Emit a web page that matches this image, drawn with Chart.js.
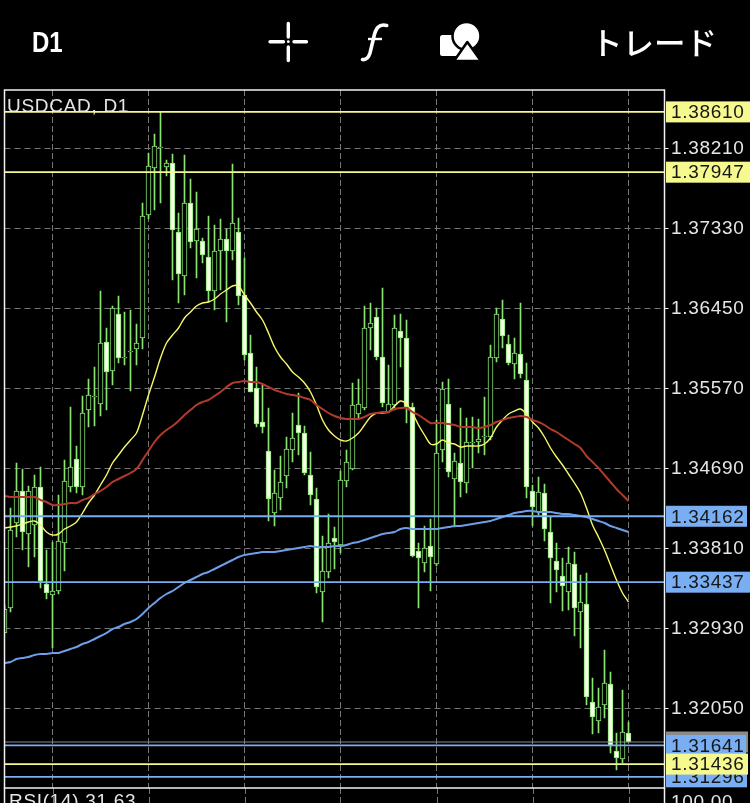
<!DOCTYPE html>
<html lang="ja">
<head>
<meta charset="utf-8">
<title>USDCAD D1</title>
<script src="https://cdn.jsdelivr.net/npm/chart.js@4"></script>
<style>
  html, body { margin: 0; padding: 0; background: #000; }
  #tela { position: relative; width: 750px; height: 803px; overflow: hidden; }
  #grafico { position: absolute; left: 0; top: 0; }
  .topo { position: absolute; color: #fff; white-space: nowrap; }
  #periodo { left: 32px; top: 25px; font: bold 30px "Liberation Sans"; transform: scaleX(0.8); transform-origin: left top; }
  #trade { left: 591px; top: 18px; font: 500 31.5px "Noto Sans CJK JP"; }
  #icones { position: absolute; left: 0; top: 0; }
</style>
</head>
<body>
<div id="tela">
  <canvas id="grafico" width="750" height="803"></canvas>
  <div class="topo" id="periodo">D1</div>
  <div class="topo" id="trade">トレード</div>
  <svg id="icones" width="750" height="80" fill="#fff" stroke="none">
    <!-- cruz -->
    <g stroke="#fff" stroke-width="3.4" stroke-linecap="round">
      <path d="M270 41.7H283.5M294 41.7H306.5M288.3 23.5V37M288.3 47V60.5"/>
    </g>
    <circle cx="288.3" cy="41.7" r="1.4"/>
    <!-- f -->
    <path d="M386.7 25.5C379 23.5 375.5 28 373.5 38.5L370 53C368.5 58 366 60 362.5 59.5" fill="none" stroke="#fff" stroke-width="3.6" stroke-linecap="round"/>
    <path d="M368 39H382" stroke="#fff" stroke-width="2.4"/>
    <!-- formas -->
    <rect x="440" y="35" width="22" height="21" rx="2.5"/>
    <circle cx="466.5" cy="36" r="14" stroke="#000" stroke-width="2.5"/>
    <path d="M467.3 42L481 61H454Z" stroke="#000" stroke-width="2.5" stroke-linejoin="round"/>
  </svg>
</div>
<script>
// USDCAD diário
const opens = [
  1.32878,1.33153,1.34088,1.34440,1.33967,1.34066,1.34484,1.33417,1.33296,1.33340,
  1.33868,1.34484,1.34792,1.34484,1.35331,1.35474,1.35397,1.36079,1.35760,1.36387,
  1.35903,1.35969,1.36002,1.36123,1.37476,1.37993,1.38213,1.38004,1.38048,1.37289,
  1.36805,1.37608,1.37190,1.37190,1.37014,1.36640,1.37080,1.37212,1.37080,1.37289,
  1.36596,1.35958,1.35573,1.35199,1.34880,1.34198,1.34363,1.34605,1.34891,1.35166,
  1.35078,1.34616,1.34352,1.33329,1.33549,1.33923,1.33846,1.34550,1.34682,1.35287,
  1.35353,1.36233,1.36354,1.35914,1.35309,1.35386,1.36200,1.36123,1.35364,1.33780,
  1.33648,1.33835,1.33637,1.34891,1.35397,1.34572,1.34748,1.34528,1.34968,1.34979,
  1.35034,1.35034,1.35903,1.36332,1.36057,1.35837,1.35947,1.35661,1.34440,1.34209,
  1.34418,1.33989,1.33670,1.33505,1.33329,1.33637,1.33109,1.33197,1.32119,1.31910,
  1.32086,1.32317,1.31580,1.31492,1.31778
];
const highs = [
  1.33186,1.34253,1.34748,1.34682,1.34495,1.34616,1.34704,1.33791,1.33879,1.34396,
  1.34781,1.35364,1.34935,1.35485,1.35672,1.35804,1.36640,1.36233,1.36475,1.36585,
  1.36409,1.36431,1.36277,1.37608,1.38158,1.38367,1.38609,1.38081,1.38147,1.37498,
  1.38136,1.37872,1.37729,1.37223,1.37465,1.37366,1.37432,1.37322,1.38037,1.37443,
  1.37003,1.36156,1.35804,1.35606,1.35353,1.34671,1.34825,1.35034,1.35298,1.35518,
  1.35155,1.34869,1.34473,1.33945,1.34187,1.34044,1.34660,1.34891,1.35628,1.35672,
  1.36475,1.36508,1.36453,1.36673,1.35826,1.36376,1.36387,1.36321,1.35408,1.33868,
  1.34055,1.34132,1.35221,1.35639,1.35672,1.34858,1.35353,1.35243,1.35254,1.35232,
  1.35474,1.36046,1.36453,1.36541,1.36156,1.36123,1.36508,1.35848,1.34506,1.34594,
  1.34517,1.34154,1.33868,1.33703,1.33824,1.33769,1.33516,1.33538,1.32383,1.32273,
  1.32691,1.32449,1.31778,1.32251,1.31899
];
const lows = [
  1.32878,1.33109,1.33934,1.33791,1.33604,1.33714,1.33373,1.33252,1.32713,1.33307,
  1.33560,1.34429,1.34418,1.34396,1.35144,1.35155,1.35265,1.35331,1.35606,1.35848,
  1.35826,1.35540,1.35826,1.36002,1.37432,1.37531,1.37608,1.37905,1.36761,1.36508,
  1.36596,1.37113,1.36783,1.36948,1.36519,1.36431,1.36651,1.36299,1.36981,1.36486,
  1.35881,1.35529,1.35144,1.35078,1.34110,1.34055,1.34231,1.34473,1.34759,1.34836,
  1.34616,1.34286,1.33318,1.32999,1.33483,1.33582,1.33758,1.34484,1.34671,1.35243,
  1.35331,1.35991,1.35881,1.35364,1.35298,1.35331,1.35804,1.35188,1.33714,1.33153,
  1.33549,1.33340,1.33615,1.34759,1.34594,1.34044,1.34374,1.34418,1.34693,1.34858,
  1.34836,1.35001,1.35859,1.36013,1.35826,1.35672,1.35683,1.34363,1.34055,1.34176,
  1.33890,1.33208,1.33329,1.33120,1.33131,1.32845,1.32713,1.32086,1.31767,1.31778,
  1.31943,1.31558,1.31371,1.31448,1.31679
];
const closes = [
  1.33142,1.34011,1.34440,1.33989,1.34440,1.34484,1.33450,1.33318,1.33340,1.33890,
  1.34550,1.34704,1.34484,1.35298,1.35496,1.35485,1.36068,1.35749,1.36453,1.35903,
  1.35914,1.35980,1.36068,1.37465,1.38015,1.38235,1.38224,1.38048,1.37311,1.36827,
  1.37608,1.37179,1.37322,1.37036,1.36640,1.37080,1.37212,1.37080,1.37388,1.36585,
  1.35936,1.35529,1.35177,1.35144,1.34352,1.34418,1.34539,1.34902,1.35023,1.35078,
  1.34638,1.34396,1.33384,1.33560,1.33868,1.33879,1.34561,1.34759,1.35386,1.35397,
  1.36233,1.36288,1.35914,1.35408,1.35397,1.36233,1.36123,1.35364,1.33725,1.33703,
  1.33813,1.33714,1.34858,1.35562,1.34649,1.34770,1.34539,1.34979,1.34979,1.35012,
  1.35045,1.35914,1.36387,1.36145,1.35848,1.35958,1.35727,1.34484,1.34264,1.34429,
  1.34022,1.33703,1.33571,1.33395,1.33648,1.33153,1.33219,1.32174,1.31954,1.32064,
  1.32328,1.31635,1.31503,1.31789,1.31679
];

// médias móveis (amarela, vermelha, azul)
const maYellow = [
  1.34033,1.34044,1.34055,1.34077,1.34099,1.34110,1.34066,1.33989,1.33956,1.33967,
  1.34022,1.34055,1.34099,1.34198,1.34308,1.34396,1.34506,1.34616,1.34748,1.34836,
  1.34924,1.35001,1.35078,1.35276,1.35496,1.35694,1.35903,1.36068,1.36156,1.36233,
  1.36343,1.36409,1.36475,1.36508,1.36519,1.36552,1.36607,1.36651,1.36695,1.36695,
  1.36596,1.36508,1.36409,1.36321,1.36178,1.36024,1.35914,1.35837,1.35749,1.35694,
  1.35628,1.35529,1.35386,1.35221,1.35111,1.35045,1.35001,1.34990,1.35023,1.35078,
  1.35166,1.35254,1.35298,1.35298,1.35309,1.35375,1.35430,1.35397,1.35298,1.35166,
  1.35056,1.34957,1.34957,1.35001,1.34968,1.34957,1.34924,1.34935,1.34935,1.34935,
  1.34957,1.35023,1.35144,1.35221,1.35287,1.35320,1.35342,1.35287,1.35199,1.35133,
  1.35034,1.34913,1.34814,1.34726,1.34627,1.34528,1.34418,1.34253,1.34066,1.33934,
  1.33791,1.33626,1.33461,1.33318,1.33219
];
const maRed = [
  1.34385,1.34374,1.34374,1.34374,1.34374,1.34374,1.34341,1.34319,1.34286,1.34286,
  1.34297,1.34308,1.34308,1.34341,1.34363,1.34407,1.34440,1.34484,1.34539,1.34572,
  1.34605,1.34638,1.34682,1.34781,1.34880,1.34979,1.35056,1.35111,1.35155,1.35210,
  1.35276,1.35331,1.35386,1.35419,1.35441,1.35485,1.35529,1.35584,1.35628,1.35639,
  1.35650,1.35639,1.35639,1.35617,1.35584,1.35551,1.35529,1.35507,1.35496,1.35485,
  1.35463,1.35441,1.35386,1.35342,1.35298,1.35265,1.35243,1.35232,1.35232,1.35232,
  1.35254,1.35287,1.35298,1.35309,1.35309,1.35342,1.35353,1.35353,1.35309,1.35276,
  1.35232,1.35188,1.35188,1.35188,1.35177,1.35166,1.35144,1.35144,1.35144,1.35133,
  1.35144,1.35166,1.35199,1.35221,1.35243,1.35254,1.35265,1.35254,1.35221,1.35199,
  1.35166,1.35122,1.35089,1.35045,1.35001,1.34957,1.34913,1.34825,1.34759,1.34693,
  1.34616,1.34539,1.34462,1.34396,1.34330
];
const maBlue = [
  1.32548,1.32559,1.32592,1.32603,1.32614,1.32636,1.32647,1.32647,1.32658,1.32658,
  1.32680,1.32702,1.32724,1.32757,1.32779,1.32812,1.32845,1.32878,1.32922,1.32944,
  1.32977,1.32999,1.33032,1.33087,1.33153,1.33208,1.33263,1.33307,1.33340,1.33384,
  1.33428,1.33461,1.33494,1.33527,1.33549,1.33582,1.33615,1.33648,1.33681,1.33714,
  1.33736,1.33747,1.33758,1.33769,1.33769,1.33769,1.33780,1.33791,1.33802,1.33813,
  1.33824,1.33835,1.33824,1.33824,1.33824,1.33835,1.33835,1.33846,1.33868,1.33879,
  1.33901,1.33923,1.33945,1.33967,1.33978,1.33989,1.34022,1.34033,1.34022,1.34022,
  1.34022,1.34022,1.34022,1.34033,1.34044,1.34055,1.34055,1.34066,1.34077,1.34088,
  1.34099,1.34110,1.34132,1.34154,1.34176,1.34198,1.34209,1.34220,1.34220,1.34209,
  1.34209,1.34209,1.34198,1.34187,1.34187,1.34176,1.34165,1.34154,1.34132,1.34110,
  1.34088,1.34055,1.34033,1.34011,1.33989
];

// níveis e eixos
const yellowLevels = [1.38610, 1.37947, 1.31436];
const blueLevels = [1.34162, 1.33437, 1.31641, 1.31296];
const lastPrice = 1.31679;
const priceTicks = [1.38210, 1.37330, 1.36450, 1.35570, 1.34690, 1.33810, 1.32930, 1.32050];
const dayTicks = [8, 24, 40, 56, 72, 88, 104];

const fonte = '"Liberation Sans"';
const amarelo = '#f6f98e';
const azul = '#7aaef3';
const verde = '#8ae472';

const bars = opens.map((o, i) => i);

// texto, moldura e etiquetas de preço
const molduraPlugin = {
  id: 'moldura',
  beforeDraw(chart) {
    // os números da imagem são mais espaçados
    chart.ctx.letterSpacing = '0.7px';
  },
  beforeDatasetsDraw(chart) {
    const c = chart.ctx;
    c.save();
    c.fillStyle = '#e6e6e6';
    c.font = '19px ' + fonte;
    c.fillText('USDCAD, D1', 7, 112);
    c.restore();
  },
  afterDraw(chart) {
    const c = chart.ctx;
    const a = chart.chartArea;
    const escalaY = chart.scales.y;
    const escalaX = chart.scales.x;
    c.save();

    // painel do RSI, cortado na imagem
    c.strokeStyle = '#777';
    c.setLineDash([6, 3]);
    c.lineWidth = 1;
    dayTicks.forEach(t => {
      const x = Math.round(escalaX.getPixelForValue(t)) + 0.5;
      c.beginPath(); c.moveTo(x, a.bottom); c.lineTo(x, 803); c.stroke();
    });
    c.setLineDash([]);

    c.strokeStyle = '#f2f2f2';
    c.lineWidth = 1.5;
    c.strokeRect(a.left, a.top, a.right - a.left, a.bottom - a.top);
    c.beginPath();
    c.moveTo(a.left, a.bottom); c.lineTo(a.left, 803);
    c.moveTo(a.right, a.bottom); c.lineTo(a.right, 803);
    c.stroke();

    c.font = '19px ' + fonte;
    c.fillStyle = '#e6e6e6';
    c.fillText('RSI(14) 31.63', 9, 807);
    c.fillText('100.00', 671, 807.5);

    // etiquetas: a cinza por baixo, a amarela baixa por cima
    const etiqueta = (valor, cor, largura = 84) => {
      const y = escalaY.getPixelForValue(valor);
      c.fillStyle = cor;
      c.fillRect(666, y - 10.5, largura, 21);
      c.fillStyle = '#161616';
      c.textBaseline = 'middle';
      c.fillText(valor.toFixed(5), 671, y + 1);
    };
    etiqueta(lastPrice, '#8a8a8a', 82);
    etiqueta(1.38610, amarelo);
    etiqueta(1.37947, amarelo);
    etiqueta(1.34162, azul, 81);
    etiqueta(1.33437, azul);
    etiqueta(1.31296, azul, 81);
    etiqueta(1.31641, azul, 80);
    etiqueta(1.31436, amarelo, 82);
    c.restore();
  }
};

const linhaHorizontal = (valor, cor, largura) => ({
  type: 'line',
  data: [{ x: 0, y: valor }, { x: 110, y: valor }],
  borderColor: cor,
  borderWidth: largura,
  pointRadius: 0,
  order: 0
});

const linhaMedia = (valores, cor, largura) => ({
  type: 'line',
  data: valores.map((v, i) => ({ x: bars[i], y: v })),
  borderColor: cor,
  borderWidth: largura,
  pointRadius: 0,
  tension: 0.3,
  order: 1
});

new Chart(document.getElementById('grafico').getContext('2d'), {
  type: 'bar',
  plugins: [molduraPlugin],
  data: {
    datasets: [
      {
        // pavios
        data: bars.map(i => ({ x: i, y: [lows[i], highs[i]] })),
        backgroundColor: verde,
        borderWidth: 0,
        barThickness: 1,
        grouped: false,
        order: 3
      },
      {
        // corpos: vazado sobe, cheio desce
        data: bars.map(i => ({ x: i, y: [Math.min(opens[i], closes[i]), Math.max(opens[i], closes[i])] })),
        backgroundColor: bars.map(i => closes[i] >= opens[i] ? '#000' : '#f7ffe6'),
        borderColor: verde,
        borderWidth: 1,
        borderSkipped: false,
        barThickness: 5,
        grouped: false,
        order: 2
      },
      linhaMedia(maBlue, '#6d9fe8', 2),
      linhaMedia(maRed, '#b23a2c', 2),
      linhaMedia(maYellow, '#f8f76a', 1.4),
      linhaHorizontal(lastPrice, '#8a8a8a', 1),
      ...blueLevels.map(v => linhaHorizontal(v, azul, 1.8)),
      ...yellowLevels.map(v => linhaHorizontal(v, amarelo, 1.8))
    ]
  },
  options: {
    responsive: false,
    animation: false,
    layout: { padding: { left: 4.5, right: 0, top: 90, bottom: 15 } },
    plugins: { legend: { display: false }, tooltip: { enabled: false } },
    scales: {
      x: {
        type: 'linear',
        offset: false,
        min: 0,
        max: 110,
        afterBuildTicks: s => { s.ticks = dayTicks.map(value => ({ value })); },
        afterFit: s => { s.height = 0; },
        ticks: { display: false },
        border: { display: false, dash: [6, 3] },
        grid: { color: '#777', drawTicks: false, offset: false }
      },
      y: {
        position: 'right',
        min: 1.31173,
        max: 1.38851,
        afterBuildTicks: s => { s.ticks = priceTicks.map(value => ({ value })); },
        afterFit: s => { s.width = 85.5; },
        ticks: {
          color: '#e6e6e6',
          padding: 2.5,
          autoSkip: false,
          font: { family: 'Liberation Sans', size: 19 },
          callback: v => v.toFixed(5)
        },
        border: { display: false, dash: [6, 4] },
        grid: { color: '#777', tickColor: '#f2f2f2', tickBorderDash: [], tickLength: 4 }
      }
    }
  }
});
</script>
</body>
</html>
